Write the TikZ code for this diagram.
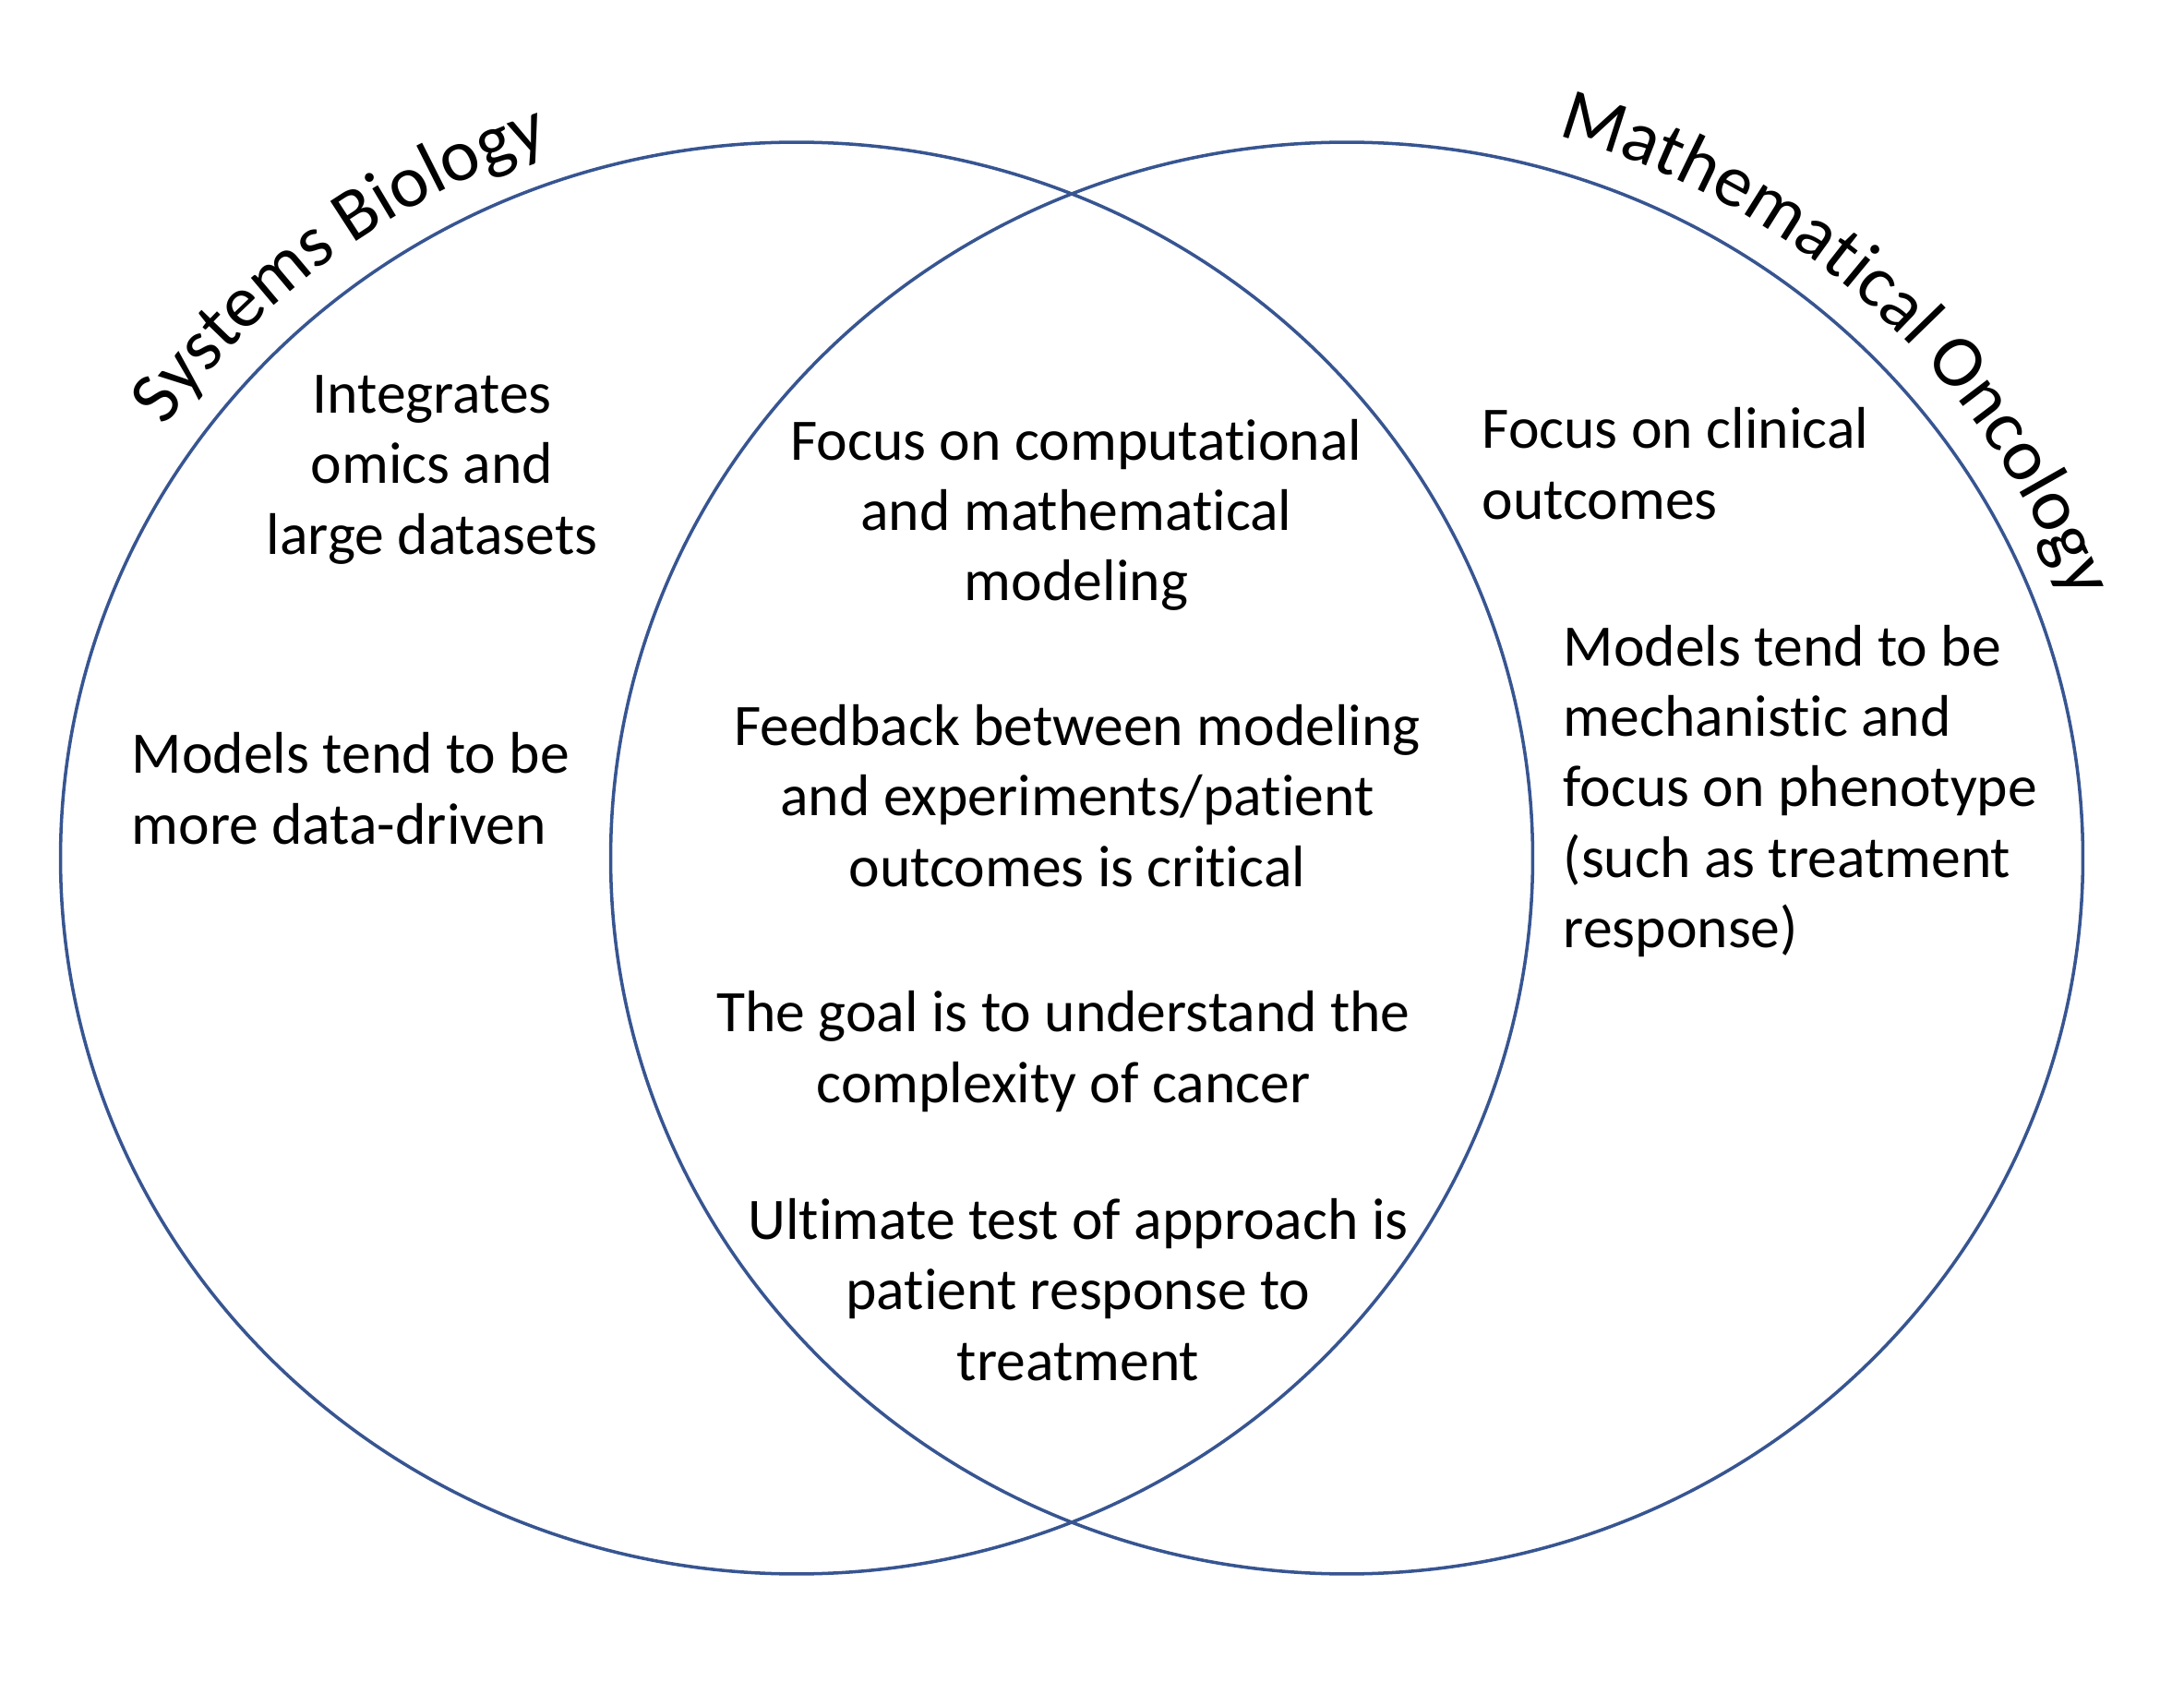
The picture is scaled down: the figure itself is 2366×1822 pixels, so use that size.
\documentclass[tikz,border=0pt]{standalone}
\usepackage{fontspec}
\setmainfont{Carlito}[RawFeature={-liga;-clig;-calt;-dlig;-rlig}]
\usetikzlibrary{shapes.geometric,decorations.text}
\definecolor{ring}{RGB}{55,85,145}
\newcommand{\titlesz}{\fontsize{22.8pt}{27pt}\selectfont}
\newcommand{\nlti}{t\kern0pt i}
\begin{document}
\begin{tikzpicture}[x=0.01cm,y=0.01cm,
  setcircle/.style={draw=ring, line width=1pt, ellipse, inner sep=0pt,
    minimum width=15.94cm, minimum height=15.5cm},
  body/.style={font=\fontsize{18.1pt}{21.7pt}\selectfont, inner sep=0pt, align=center},
  bodyleft/.style={body, align=left, anchor=west}]
\useasboundingbox (0,0) rectangle (2366,-1822);
\coordinate (sbc) at (863,-929.5);
\coordinate (moc) at (1459,-929.5);
\node[setcircle] (sb) at (sbc) {};
\node[setcircle] (mo) at (moc) {};
% titles along arcs
\path[decorate, decoration={text along path, text align=center,
  text={|\titlesz|Systems Biology}}]
  ([shift={(162:8.35cm and 8.13cm)}]sbc) arc[start angle=162, end angle=92, x radius=8.35cm, y radius=8.13cm];
\path[decorate, decoration={text along path, text align=center,
  text={|\titlesz|Mathematical Oncology}}]
  ([shift={(87:8.35cm and 8.13cm)}]moc) arc[start angle=87, end angle=7, x radius=8.35cm, y radius=8.13cm];
% texts
\node[body] (t1) at (468,-509) {Integrates\\omics and\\large datasets};
\node[bodyleft] (t2) at (142,-854) {Models tend to be\\more data-driven};
\node[body] (t3) at (1166,-558) {Focus on computa\nlti onal\\and mathema\nlti cal\\modeling};
\node[body] (t4) at (1167,-862) {Feedback between modeling\\and experiments/pa\nlti ent\\outcomes is cri\nlti cal};
\node[body] (t5) at (1152,-1139) {The goal is to understand the\\complexity of cancer};
\node[body] (t6) at (1168,-1397) {Ul\nlti mate test of approach is\\pa\nlti ent response to\\treatment};
\node[bodyleft] (t7) at (1605,-502) {Focus on clinical\\outcomes};
\node[bodyleft] (t8) at (1693,-857) {Models tend to be\\mechanis\nlti c and\\focus on phenotype\\(such as treatment\\response)};
\end{tikzpicture}
\end{document}
